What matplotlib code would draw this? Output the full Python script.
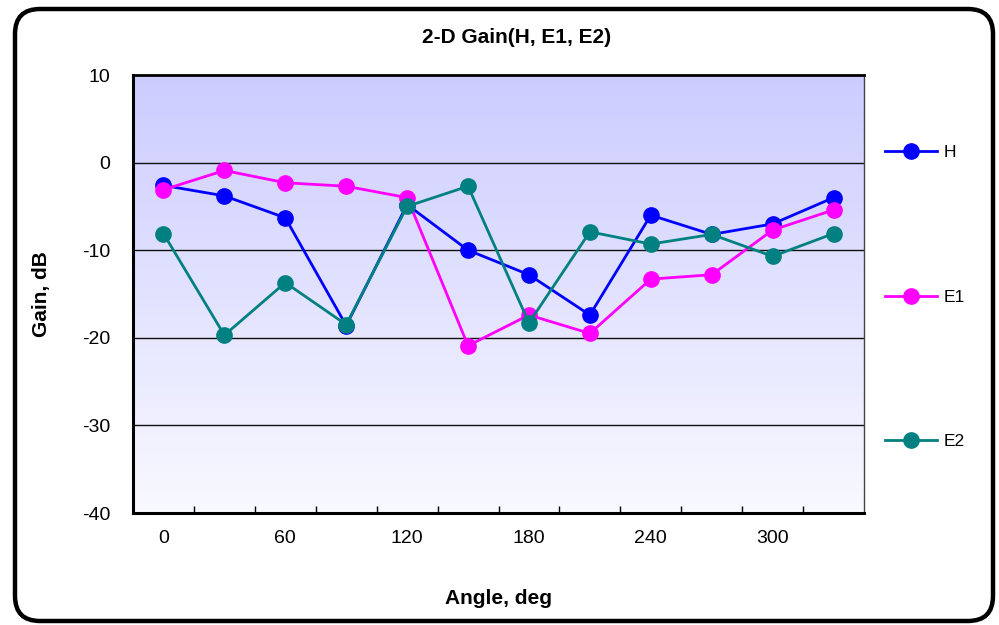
import numpy as np
import matplotlib
matplotlib.use("Agg")
import matplotlib.pyplot as plt
from matplotlib.patches import FancyBboxPatch
from matplotlib.colors import LinearSegmentedColormap

plt.rcParams['font.family'] = ['Liberation Sans', 'DejaVu Sans']
plt.rcParams['axes.unicode_minus'] = False

# Measured gain pattern, 30-degree steps
angles = [0, 30, 60, 90, 120, 150, 180, 210, 240, 270, 300, 330]
gain_h = [-2.6, -3.8, -6.3, -18.6, -4.8, -10.0, -12.8, -17.4, -6.0, -8.2, -7.0, -4.0]
gain_e1 = [-3.1, -0.9, -2.3, -2.7, -4.0, -20.9, -17.4, -19.5, -13.3, -12.8, -7.7, -5.4]
gain_e2 = [-8.1, -19.7, -13.7, -18.5, -5.0, -2.7, -18.3, -7.9, -9.3, -8.2, -10.7, -8.1]

series = [("H", gain_h, "#0000ff"),
          ("E1", gain_e1, "#ff00ff"),
          ("E2", gain_e2, "#008080")]

x_labels = [0, 60, 120, 180, 240, 300]
y_ticks = [10, 0, -10, -20, -30, -40]

W, H = 999, 625
fig = plt.figure(figsize=(W / 100, H / 100), dpi=100)
fig.patch.set_facecolor("white")

ax = fig.add_axes([133 / W, 1 - 513 / H, (864 - 133) / W, (513 - 75) / H])
ax.set_xlim(-15, 345)
ax.set_ylim(-40, 10)

# plot-area gradient
grad = np.linspace(0, 1, 256).reshape(-1, 1)
cmap = LinearSegmentedColormap.from_list("bg", ["#f9f9ff", "#ccccff"])
ax.imshow(grad, aspect="auto", cmap=cmap, origin="lower",
          extent=[0, 1, 0, 1], transform=ax.transAxes, zorder=0)

for yv in [0, -10, -20, -30]:
    ax.axhline(yv, color="#111111", lw=1.0, zorder=1)

for name, vals, col in series:
    ax.plot(angles, vals, color=col, lw=2.0, marker="o", markersize=11,
            markeredgecolor=col, label=name, zorder=3)

ax.set_xticks(x_labels)
ax.set_xticklabels([str(v) for v in x_labels])
ax.set_xticks(np.arange(15, 345, 30), minor=True)
ax.tick_params(axis="x", which="major", length=0, pad=12.5, labelsize=14)
ax.tick_params(axis="x", which="minor", direction="in", length=5, width=1, color="black")
ax.set_yticks(y_ticks)
ax.tick_params(axis="y", length=0, pad=16.5, labelsize=14)

ax.spines["left"].set_linewidth(2.2)
ax.spines["bottom"].set_linewidth(2.2)
ax.spines["top"].set_linewidth(2.0)
ax.spines["top"].set_color("black")
ax.spines["right"].set_linewidth(1.0)
ax.spines["right"].set_color("#444444")

ax.set_xlabel("Angle, deg", fontsize=15, fontweight="bold", labelpad=30)
ax.set_ylabel("Gain, dB", fontsize=15, fontweight="bold", labelpad=22)
fig.text(517 / W, 1 - 43 / H, "2-D Gain(H, E1, E2)", ha="center", va="baseline",
         fontsize=15, fontweight="bold")

# one legend entry per series, stacked down the right side
handles = ax.get_lines()[-3:]
for h, yp in zip(handles, [152, 297, 441]):
    fig.legend(handles=[h], labels=[h.get_label()], loc="center left",
               bbox_to_anchor=(885 / W, 1 - yp / H), frameon=False,
               fontsize=12.5, handlelength=3.0, handletextpad=0.35,
               borderpad=0, borderaxespad=0)

# rounded chart frame
frame = FancyBboxPatch((0.15, 0.04), 9.78, 6.12,
                       boxstyle="round,pad=0,rounding_size=0.25",
                       transform=fig.dpi_scale_trans, fill=False,
                       edgecolor="black", linewidth=3.2, zorder=10)
fig.patches.append(frame)

fig.savefig("out.png", dpi=100)
